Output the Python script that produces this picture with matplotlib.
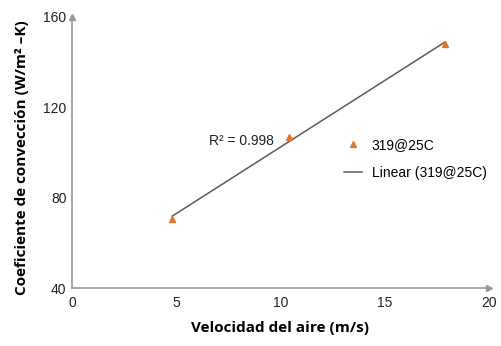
import numpy as np
import matplotlib.pyplot as plt

# velocidad del aire (m/s) y coeficiente de convección medido
velocidad = [4.8, 10.4, 17.9]
coeficiente = [70.5, 107.0, 148.0]
serie = '319@25C'
r2 = 0.998

fig = plt.figure(figsize=(5.01, 3.46), dpi=100)
ax = fig.add_axes([0.1437, 0.1676, 0.8323, 0.7833])

# ajuste lineal sobre los puntos medidos
m, b = np.polyfit(velocidad, coeficiente, 1)
xf = np.array([velocidad[0], velocidad[-1]])
ax.plot(xf, m * xf + b, color='#5a5a5a', lw=1.1, label='Linear (' + serie + ')')
ax.plot(velocidad, coeficiente, linestyle='none', marker='^', ms=4,
        color='#e0782a', label=serie)

ax.set_xlim(0, 20)
ax.set_ylim(40, 160)
ax.set_xticks([0, 5, 10, 15, 20])
ax.set_yticks([40, 80, 120, 160])
for s in ['top', 'right']:
    ax.spines[s].set_visible(False)
for s in ['left', 'bottom']:
    ax.spines[s].set_color('#9a9a9a')
    ax.spines[s].set_linewidth(1.2)
ax.tick_params(length=0, labelsize=10, colors='#222222', pad=4)
for t in ax.get_xticklabels() + ax.get_yticklabels():
    t.set_fontfamily('Liberation Sans')
ax.tick_params(axis='x', pad=6)

# flechas en los extremos de los ejes
ax.plot(1, 0, '>', color='#9a9a9a', ms=5, transform=ax.transAxes, clip_on=False)
ax.plot(0, 1, '^', color='#9a9a9a', ms=5, transform=ax.transAxes, clip_on=False)

ax.text(6.55, 105, 'R² = %.3f' % r2, fontsize=10, family='Liberation Sans',
        color='#222222', va='center')

h, l = ax.get_legend_handles_labels()
leg = ax.legend(h[::-1], l[::-1], loc='center left', bbox_to_anchor=(0.622, 0.476),
                frameon=False, handlelength=1.3, handletextpad=0.7,
                labelspacing=1.0, prop={'family': 'Liberation Sans', 'size': 10})

ax.set_xlabel('Velocidad del aire (m/s)', fontsize=11, fontweight='bold',
              family='Open Sans', labelpad=8)
ax.set_ylabel('Coeficiente de convección (W/m² –K)', fontsize=11,
              fontweight='bold', family='Open Sans')
ax.yaxis.set_label_coords(-0.102, 0.48)

fig.savefig('out.png', dpi=100)
